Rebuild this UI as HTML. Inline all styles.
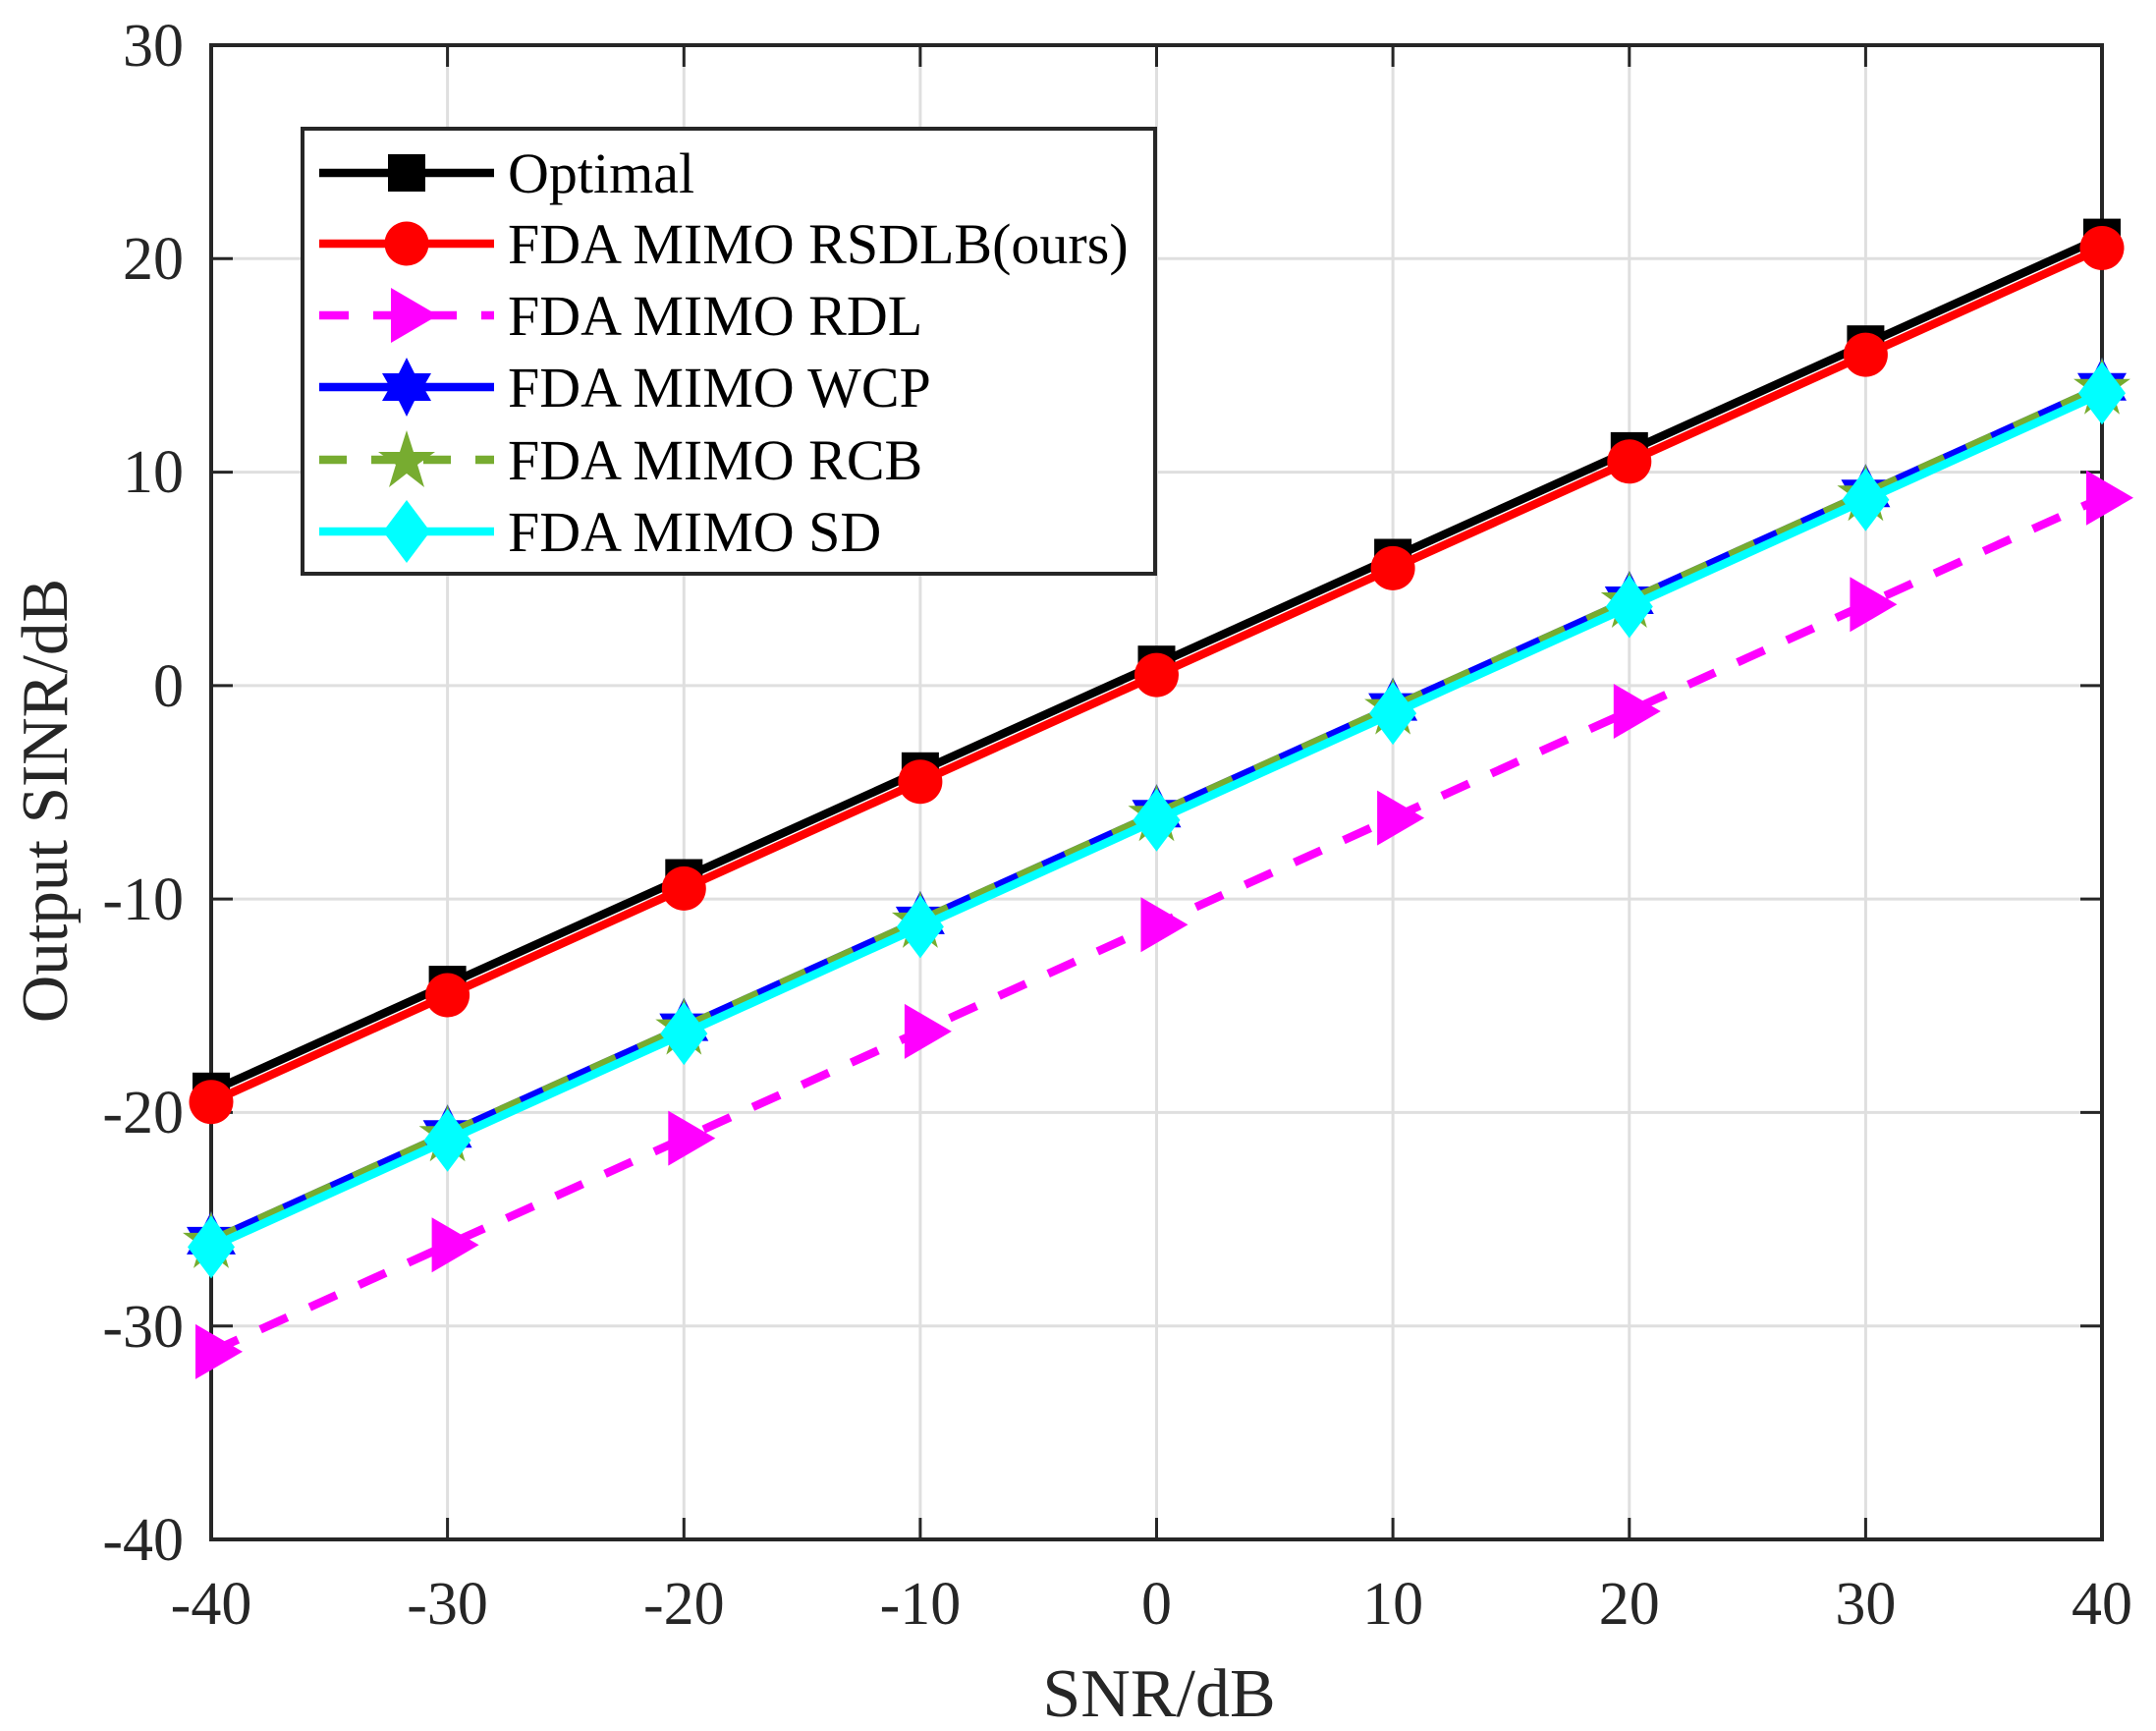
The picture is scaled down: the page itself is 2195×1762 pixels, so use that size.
<!DOCTYPE html>
<html><head><meta charset="utf-8"><style>
html,body{margin:0;padding:0;background:#fff;}
svg{display:block;font-family:"Liberation Serif","Times New Roman",serif;}
</style></head><body>
<svg width="2195" height="1762" viewBox="0 0 2195 1762" xmlns="http://www.w3.org/2000/svg">
<defs>
<marker id="sq" markerUnits="userSpaceOnUse" markerWidth="60" markerHeight="60" refX="30" refY="30" overflow="visible"><rect x="11" y="11" width="38" height="38" fill="#000"/></marker>
<marker id="ci" markerUnits="userSpaceOnUse" markerWidth="60" markerHeight="60" refX="30" refY="30" overflow="visible"><circle cx="30" cy="30" r="22.5" fill="#f00"/></marker>
<marker id="tr" markerUnits="userSpaceOnUse" markerWidth="60" markerHeight="60" refX="30" refY="30" overflow="visible"><polygon points="14,2 62,30 14,58" fill="#f0f"/></marker>
<marker id="hx" markerUnits="userSpaceOnUse" markerWidth="60" markerHeight="60" refX="30" refY="30" overflow="visible"><polygon points="30,0 38,16 55,16 47,30 55,44 38,44 30,60 22,44 5,44 13,30 5,16 22,16" fill="#00f"/></marker>
<marker id="pg" markerUnits="userSpaceOnUse" markerWidth="60" markerHeight="60" refX="30" refY="30" overflow="visible"><polygon points="30,0 37,22 59,22 41,35 48,58 30,44 12,58 19,35 1,22 23,22" fill="#77ac30"/></marker>
<marker id="dm" markerUnits="userSpaceOnUse" markerWidth="60" markerHeight="60" refX="30" refY="30" overflow="visible"><polygon points="30,-2 54,30 30,62 6,30" fill="#0ff"/></marker>
</defs>
<g stroke="#dfdfdf" stroke-width="3">
<line x1="455.6" y1="46" x2="455.6" y2="1567"/><line x1="696.3" y1="46" x2="696.3" y2="1567"/><line x1="936.9" y1="46" x2="936.9" y2="1567"/><line x1="1177.5" y1="46" x2="1177.5" y2="1567"/><line x1="1418.1" y1="46" x2="1418.1" y2="1567"/><line x1="1658.8" y1="46" x2="1658.8" y2="1567"/><line x1="1899.4" y1="46" x2="1899.4" y2="1567"/>
<line x1="215" y1="263.3" x2="2140" y2="263.3"/><line x1="215" y1="480.6" x2="2140" y2="480.6"/><line x1="215" y1="697.9" x2="2140" y2="697.9"/><line x1="215" y1="915.1" x2="2140" y2="915.1"/><line x1="215" y1="1132.4" x2="2140" y2="1132.4"/><line x1="215" y1="1349.7" x2="2140" y2="1349.7"/>
</g>
<g stroke="#262626" stroke-width="3">
<path d="M455.6,1567v-22M696.3,1567v-22M936.9,1567v-22M1177.5,1567v-22M1418.1,1567v-22M1658.8,1567v-22M1899.4,1567v-22M455.6,46v22M696.3,46v22M936.9,46v22M1177.5,46v22M1418.1,46v22M1658.8,46v22M1899.4,46v22"/>
<path d="M215,263.3h22M215,480.6h22M215,697.9h22M215,915.1h22M215,1132.4h22M215,1349.7h22M2140,263.3h-22M2140,480.6h-22M2140,697.9h-22M2140,915.1h-22M2140,1132.4h-22M2140,1349.7h-22"/>
</g>
<rect x="215" y="46" width="1925" height="1521" fill="none" stroke="#262626" stroke-width="4"/>
<g fill="none" stroke-width="8.5">
<polyline stroke="#000" marker-start="url(#sq)" marker-mid="url(#sq)" marker-end="url(#sq)" points="215,1110.8 455.6,1002.1 696.3,893.5 936.9,784.8 1177.5,676.2 1418.1,567.5 1658.8,458.9 1899.4,350.2 2140,241.6"/>
<polyline stroke="#f00" marker-start="url(#ci)" marker-mid="url(#ci)" marker-end="url(#ci)" points="215,1121.7 455.6,1013 696.3,904.4 936.9,795.7 1177.5,687.1 1418.1,578.4 1658.8,469.8 1899.4,361.1 2140,252.5"/>
<polyline stroke="#f0f" stroke-dasharray="30 25" marker-start="url(#tr)" marker-mid="url(#tr)" marker-end="url(#tr)" points="215,1375.9 455.6,1267.2 696.3,1158.6 936.9,1049.9 1177.5,941.3 1418.1,832.6 1658.8,724 1899.4,615.3 2140,506.7"/>
<polyline stroke="#00f" marker-start="url(#hx)" marker-mid="url(#hx)" marker-end="url(#hx)" points="215,1262.9 455.6,1154.2 696.3,1045.6 936.9,936.9 1177.5,828.3 1418.1,719.6 1658.8,611 1899.4,502.3 2140,393.7"/>
<polyline stroke="#77ac30" stroke-dasharray="28 25" marker-start="url(#pg)" marker-mid="url(#pg)" marker-end="url(#pg)" points="215,1262.9 455.6,1154.2 696.3,1045.6 936.9,936.9 1177.5,828.3 1418.1,719.6 1658.8,611 1899.4,502.3 2140,393.7"/>
<polyline stroke="#0ff" marker-start="url(#dm)" marker-mid="url(#dm)" marker-end="url(#dm)" points="215,1269.4 455.6,1160.7 696.3,1052.1 936.9,943.4 1177.5,834.8 1418.1,726.1 1658.8,617.5 1899.4,508.8 2140,400.2"/>
</g>
<rect x="308" y="131" width="868" height="453" fill="#fff" stroke="#262626" stroke-width="4"/>
<g fill="none" stroke-width="8.5">
<line x1="325" y1="176" x2="503" y2="176" stroke="#000"/>
<line x1="325" y1="248" x2="503" y2="248" stroke="#f00"/>
<line x1="325" y1="321" x2="503" y2="321" stroke="#f0f" stroke-dasharray="30 25"/>
<line x1="325" y1="394" x2="503" y2="394" stroke="#00f"/>
<line x1="325" y1="468" x2="503" y2="468" stroke="#77ac30" stroke-dasharray="28 25"/>
<line x1="325" y1="541" x2="503" y2="541" stroke="#0ff"/>
</g>
<rect x="395" y="157" width="38" height="38" fill="#000"/>
<circle cx="414" cy="248" r="22.5" fill="#f00"/>
<polygon points="398,293 446,321 398,349" fill="#f0f"/>
<polygon points="414,364 422,380 439,380 431,394 439,408 422,408 414,424 406,408 389,408 397,394 389,380 406,380" fill="#00f"/>
<polygon points="414,438 421,460 443,460 425,473 432,496 414,482 396,496 403,473 385,460 407,460" fill="#77ac30"/>
<polygon points="414,509 438,541 414,573 390,541" fill="#0ff"/>
<g font-size="58" fill="#000">
<text x="517" y="196">Optimal</text>
<text x="517" y="268">FDA MIMO RSDLB(ours)</text>
<text x="517" y="341">FDA MIMO RDL</text>
<text x="517" y="414">FDA MIMO WCP</text>
<text x="517" y="488">FDA MIMO RCB</text>
<text x="517" y="561">FDA MIMO SD</text>
</g>
<g font-size="62" fill="#262626" text-anchor="end">
<text x="187" y="67">30</text><text x="187" y="284">20</text><text x="187" y="501">10</text><text x="187" y="719">0</text><text x="187" y="936">-10</text><text x="187" y="1153">-20</text><text x="187" y="1371">-30</text><text x="187" y="1588">-40</text>
</g>
<g font-size="62" fill="#262626" text-anchor="middle">
<text x="215" y="1653">-40</text><text x="455.6" y="1653">-30</text><text x="696.3" y="1653">-20</text><text x="936.9" y="1653">-10</text><text x="1177.5" y="1653">0</text><text x="1418.1" y="1653">10</text><text x="1658.8" y="1653">20</text><text x="1899.4" y="1653">30</text><text x="2140" y="1653">40</text>
</g>
<text x="1180" y="1747" font-size="70" fill="#262626" text-anchor="middle">SNR/dB</text>
<text transform="translate(68,815) rotate(-90)" font-size="67" fill="#262626" text-anchor="middle">Output SINR/dB</text>
</svg>
</body></html>
